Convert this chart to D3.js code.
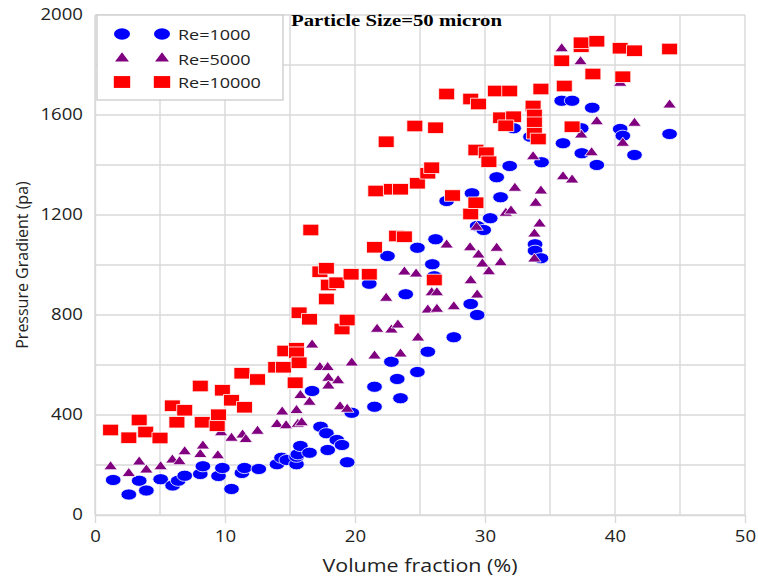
<!DOCTYPE html>
<html>
<head>
<meta charset="utf-8">
<script src="https://cdn.jsdelivr.net/npm/d3@7"></script>
<style>
  html, body { margin: 0; padding: 0; background: #fff; }
  #chart { width: 758px; height: 578px; }
</style>
</head>
<body>
<div id="chart"></div>
<script>
// data ----------------------------------------------------------------
var xTicks = [0, 10, 20, 30, 40, 50];
var yTicks = [0, 400, 800, 1200, 1600, 2000];
var seriesNames = ["Re=1000", "Re=5000", "Re=10000"];
var titleText = "Particle Size=50 micron";

// [volume fraction %, pressure gradient pa]
var re1000 = [
  [1.4,140],[2.6,82],[3.4,137],[3.95,98],[5.05,143],[5.97,118],[6.4,137],[6.9,157],
  [8.1,164],[8.3,195],[9.5,156],[9.8,188],[10.5,104],[11.3,168],[11.5,188],[12.6,184],
  [14.0,203],[14.35,229],[14.75,220],[15.5,203],[15.5,233],[15.6,243],[15.8,276],[16.5,249],
  [16.7,496],[17.35,353],[17.8,327],[17.9,260],[18.6,300],[19.0,280],[19.4,211],[19.75,409],
  [21.5,513],[21.5,433],[21.1,925],[22.5,1036],[22.8,613],[23.25,544],[23.5,467],[23.9,883],
  [24.8,572],[24.8,1069],[25.6,653],[25.95,1003],[26.2,1103],[26.1,955],[27.05,1256],[27.6,711],
  [28.9,844],[29.4,800],[29.0,1287],[29.4,1156],[29.9,1140],[30.4,1187],[30.9,1351],[31.2,1271],
  [31.9,1396],[32.2,1547],[33.5,1513],[33.85,1083],[33.85,1057],[34.3,1027],[34.35,1411],
  [35.9,1657],[36.7,1657],[38.25,1629],[37.4,1547],[36.0,1487],[37.45,1447],[38.6,1400],
  [40.4,1544],[40.6,1517],[41.5,1440],[44.2,1524]
];

var re5000 = [
  [1.2,193],[2.6,166],[3.4,212],[3.95,180],[5.05,193],[5.95,220],[6.5,213],[6.9,253],
  [8.1,242],[8.3,276],[9.45,237],[9.7,329],[10.5,307],[11.35,320],[11.6,302],[12.5,335],
  [14.0,362],[14.4,412],[14.7,357],[15.5,418],[15.6,363],[15.9,369],[15.8,478],[16.5,451],
  [16.7,680],[17.3,590],[17.9,590],[17.95,547],[18.7,537],[17.95,516],[18.85,433],[19.4,423],
  [19.75,608],[21.5,636],[21.7,743],[22.4,867],[22.8,740],[23.3,760],[23.5,644],[23.8,972],
  [24.7,964],[24.85,708],[25.9,889],[26.3,889],[25.6,820],[26.3,823],[27.6,833],[27.05,1080],
  [28.85,1069],[29.5,1040],[30.9,1067],[29.8,1004],[30.3,973],[31.2,1009],[28.9,937],[29.4,880],
  [29.35,1151],[31.6,1207],[32.0,1216],[32.3,1307],[33.9,1247],[34.3,1296],[34.2,1164],[33.8,1124],
  [33.8,1024],[33.7,1433],[35.9,1865],[37.35,1813],[40.4,1727],[44.2,1640],[38.6,1573],[41.5,1567],
  [37.4,1520],[38.2,1449],[40.6,1487],[36.0,1353],[36.7,1340]
];

var re10000 = [
  [1.2,340],[2.6,309],[3.4,380],[3.9,332],[5.0,308],[5.95,437],[6.3,371],[6.9,419],
  [8.1,516],[8.25,371],[9.4,357],[9.5,401],[9.8,499],[10.5,459],[11.3,567],[11.5,431],
  [12.5,542],[13.9,591],[14.5,591],[14.6,656],[15.5,667],[15.5,649],[15.7,609],[15.4,529],
  [15.7,809],[16.5,783],[16.6,1140],[17.3,973],[17.8,987],[17.95,920],[18.6,929],[17.8,864],
  [19.0,744],[19.4,780],[19.7,963],[21.1,963],[21.5,1071],[21.6,1296],[22.4,1493],[22.8,1303],
  [23.5,1303],[23.2,1116],[23.8,1113],[24.6,1556],[24.8,1327],[25.6,1367],[25.9,1389],[26.2,1549],
  [26.1,940],[27.05,1684],[27.5,1278],[28.9,1664],[29.5,1644],[28.9,1204],[29.3,1249],[29.3,1460],
  [30.1,1449],[30.3,1413],[30.8,1696],[31.9,1696],[31.2,1589],[32.2,1593],[31.6,1557],[33.7,1636],
  [33.8,1600],[33.8,1569],[33.8,1527],[34.1,1504],[34.3,1704],[35.9,1817],[36.1,1716],[36.7,1553],
  [37.4,1873],[37.4,1889],[38.6,1895],[38.3,1764],[40.4,1867],[40.6,1753],[41.5,1857],[44.2,1864]
];

// chart size -----------------------------------------------------------
var width = 758, height = 578;
var plot = {left: 95, right: 745, top: 15, bottom: 515};
var gridColor = "#d9d9d9";
var txtStretch = 1.2;   // picture is a bit wider than tall

var x = d3.scaleLinear().domain([0, 50]).range([plot.left, plot.right]);
var y = d3.scaleLinear().domain([0, 2000]).range([plot.bottom, plot.top]);

var svg = d3.select('#chart').append("svg")
  .attr("width", width)
  .attr("height", height);

/****************************************
* Grid
*****************************************/
var grid = svg.append("g");

grid.selectAll(".vgrid")
  .data(d3.range(0, 51, 5))
  .join("line")
  .attr("x1", d => x(d)).attr("x2", d => x(d))
  .attr("y1", plot.top).attr("y2", plot.bottom)
  .attr("stroke", gridColor)
  .attr("stroke-width", 1.4);

grid.selectAll(".hgrid")
  .data(d3.range(0, 2001, 200))
  .join("line")
  .attr("x1", plot.left).attr("x2", plot.right)
  .attr("y1", d => y(d)).attr("y2", d => y(d))
  .attr("stroke", gridColor)
  .attr("stroke-width", 1.4);

/****************************************
* Axes
*****************************************/
var xAxis = svg.append("g")
  .attr("transform", "translate(0," + plot.bottom + ")")
  .call(d3.axisBottom(x).tickValues(xTicks).tickFormat(d3.format("d"))
    .tickSize(8).tickPadding(8).tickSizeOuter(0));

var yAxis = svg.append("g")
  .attr("transform", "translate(" + plot.left + ",0)")
  .call(d3.axisLeft(y).tickValues(yTicks).tickFormat(d3.format("d"))
    .tickSize(0).tickPadding(12).tickSizeOuter(0));

[xAxis, yAxis].forEach(function(ax) {
  ax.select(".domain").attr("stroke", gridColor).attr("stroke-width", 1.4);
  ax.selectAll(".tick line").attr("stroke", gridColor).attr("stroke-width", 1.4);
  ax.selectAll(".tick text")
    .attr("fill", "#222")
    .style("font-family", "'Open Sans', sans-serif")
    .style("font-size", "15.5px");
});

xAxis.selectAll(".tick text")
  .attr("transform", "scale(" + txtStretch + ",1)");

yAxis.selectAll(".tick text")
  .attr("x", 0)
  .attr("transform", "translate(-12,0) scale(" + txtStretch + ",1)");

// axis titles
svg.append("text")
  .attr("x", (plot.left + plot.right) / 2)
  .attr("y", 572)
  .attr("text-anchor", "middle")
  .attr("textLength", 195)
  .attr("lengthAdjust", "spacingAndGlyphs")
  .style("font-family", "'Open Sans', sans-serif")
  .style("font-size", "18px")
  .attr("fill", "#222")
  .text("Volume fraction (%)");

svg.append("text")
  .attr("transform", "translate(28," + ((plot.top + plot.bottom) / 2) + ") rotate(-90)")
  .attr("text-anchor", "middle")
  .style("font-family", "'Open Sans', sans-serif")
  .style("font-size", "16px")
  .attr("fill", "#222")
  .text("Pressure Gradient (pa)");

// title
svg.append("text")
  .attr("x", 291)
  .attr("y", 26)
  .attr("textLength", 211)
  .attr("lengthAdjust", "spacingAndGlyphs")
  .style("font-family", "'Liberation Serif', 'Times New Roman', serif")
  .style("font-weight", "bold")
  .style("font-size", "16px")
  .attr("fill", "#000")
  .text(titleText);

/****************************************
* Points
*****************************************/
var series = [
  {name: seriesNames[0], data: re1000,  color: "#0000ff", type: d3.symbolCircle,   size: 98,  sx: 1.4},
  {name: seriesNames[1], data: re5000,  color: "#800080", type: d3.symbolTriangle, size: 47,  sx: 1.3},
  {name: seriesNames[2], data: re10000, color: "#ff0000", type: d3.symbolSquare,   size: 134, sx: 1.38}
];

series.forEach(function(s) {
  var sym = d3.symbol().type(s.type).size(s.size);
  svg.append("g")
    .selectAll("path")
    .data(s.data)
    .join("path")
    .attr("d", sym)
    .attr("transform", d => "translate(" + x(d[0]) + "," + y(d[1]) + ") scale(" + s.sx + ",1)")
    .attr("fill", s.color)
    .attr("stroke", "#fff")
    .attr("stroke-width", 0.8)
    .attr("vector-effect", "non-scaling-stroke");
});

/****************************************
* Legend
*****************************************/
var legend = svg.append("g");

legend.append("rect")
  .attr("x", 97).attr("y", 15)
  .attr("width", 186).attr("height", 85)
  .attr("fill", "#fff")
  .attr("stroke", "#cfcfcf")
  .attr("stroke-width", 1.4);

var rowY = [34, 58.5, 82];

series.forEach(function(s, i) {
  var sym = d3.symbol().type(s.type).size(s.size * 1.05);
  [122, 162].forEach(function(mx) {
    legend.append("path")
      .attr("d", sym)
      .attr("transform", "translate(" + mx + "," + rowY[i] + ") scale(" + s.sx + ",1)")
      .attr("fill", s.color);
  });
  legend.append("text")
    .attr("x", 0)
    .attr("transform", "translate(178," + (rowY[i] + 6) + ") scale(" + txtStretch + ",1)")
    .style("font-family", "'Open Sans', sans-serif")
    .style("font-size", "15px")
    .attr("fill", "#222")
    .text(s.name);
});
</script>
</body>
</html>
